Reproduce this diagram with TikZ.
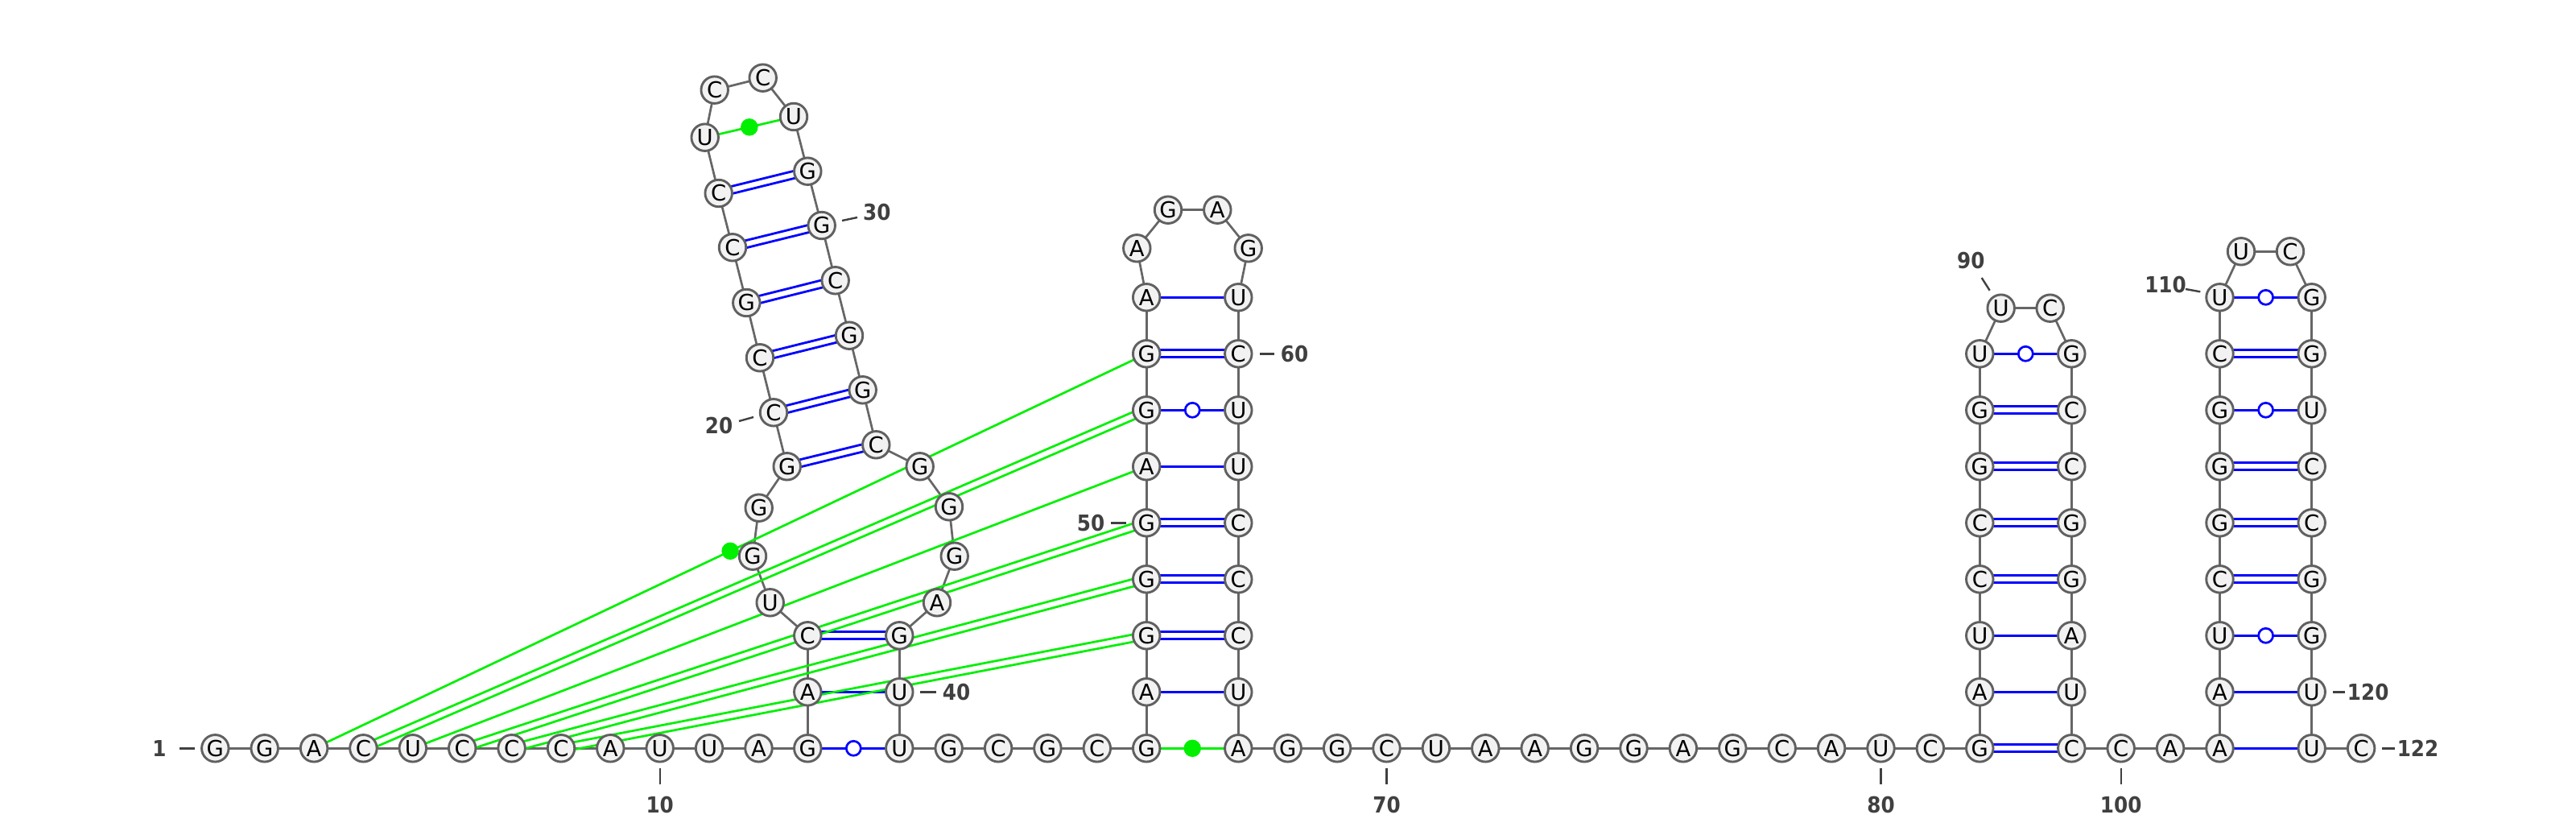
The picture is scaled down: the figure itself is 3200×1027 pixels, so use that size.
\documentclass[tikz,border=0pt]{standalone}
\usepackage{fontspec}
\setmainfont{DejaVu Sans}
\newfontfamily\numfont[FakeStretch=0.9]{DejaVu Sans}
\usetikzlibrary{calc}
\pgfdeclarelayer{bg}
\pgfsetlayers{bg,main}
\definecolor{ntfill}{HTML}{F2F2F2}
\definecolor{ntdraw}{HTML}{606060}
\definecolor{bbcol}{HTML}{666666}
\definecolor{pblue}{HTML}{0000FF}
\definecolor{pgreen}{HTML}{00F000}
\definecolor{lblcol}{HTML}{404040}
\tikzset{
  nt/.style={circle, draw=ntdraw, fill=ntfill, line width=0.29mm, minimum size=3.35mm, inner sep=0pt, font=\fontsize{7.8pt}{9pt}\selectfont, text=black},
  bb/.style={draw=bbcol, line width=0.27mm},
  bp/.style={draw=pblue, line width=0.28mm},
  gp/.style={draw=pgreen, line width=0.27mm},
  wob/.style={circle, draw=pblue, fill=white, line width=0.27mm, minimum size=1.8mm, inner sep=0pt},
  gdot/.style={circle, fill=pgreen, minimum size=2.15mm, inner sep=0pt},
  lbl/.style={font=\numfont\bfseries\fontsize{7.8pt}{9pt}\selectfont, text=lblcol, inner sep=0pt},
  tick/.style={draw=lblcol, line width=0.24mm}
}
\newcommand\dpl[3]{%
  \draw[#3] ($(#1.center)!0.45mm!90:(#2.center)$) -- ($(#2.center)!0.45mm!-90:(#1.center)$);
  \draw[#3] ($(#1.center)!0.45mm!-90:(#2.center)$) -- ($(#2.center)!0.45mm!90:(#1.center)$);}
\begin{document}
\begin{tikzpicture}[x=0.1mm,y=-0.1mm]
\useasboundingbox (0,0) rectangle (3200,1027);
% nucleotides
\foreach \n/\x/\y/\b in {
1/267.3/929.3/G, 2/328.7/929.3/G, 3/390.1/929.3/A, 4/451.4/929.3/C, 5/512.8/929.3/U,
6/574.2/929.3/C, 7/635.6/929.3/C, 8/697.0/929.3/C, 9/758.3/929.3/A, 10/819.7/929.3/U,
11/881.1/929.3/U, 12/942.5/929.3/A, 13/1003.3/929.3/G, 14/1003.3/859.3/A, 15/1003.3/789.3/C,
16/956.7/748.3/U, 17/935.0/690.7/G, 18/942.7/630.7/G, 19/977.7/579.3/G, 20/961.0/512.3/C,
21/944.0/444.3/C, 22/927.3/376.0/G, 23/910.0/307.3/C, 24/892.7/240.0/C, 25/875.7/170.7/U,
26/887.7/111.7/C, 27/947.7/96.7/C, 28/986.0/145.0/U, 29/1003.3/212.7/G, 30/1020.7/280.0/G,
31/1037.7/348.3/C, 32/1055.0/416.7/G, 33/1071.7/484.3/G, 34/1088.3/552.3/C, 35/1142.7/579.3/G,
36/1179.0/629.3/G, 37/1185.7/690.7/G, 38/1164.0/748.3/A, 39/1117.3/789.3/G, 40/1117.3/859.3/U,
41/1117.3/929.3/U, 42/1178.7/929.3/G, 43/1240.1/929.3/C, 44/1301.4/929.3/G, 45/1362.8/929.3/C,
46/1424.2/929.3/G, 47/1424.2/859.3/A, 48/1424.2/789.3/G, 49/1424.2/719.3/G, 50/1424.2/649.3/G,
51/1424.2/579.3/A, 52/1424.2/509.3/G, 53/1424.2/439.3/G, 54/1424.2/369.3/A, 55/1412.3/308.3/A,
56/1451.0/260.7/G, 57/1512.3/260.7/A, 58/1550.7/308.3/G, 59/1538.3/369.3/U, 60/1538.3/439.3/C,
61/1538.3/509.3/U, 62/1538.3/579.3/U, 63/1538.3/649.3/C, 64/1538.3/719.3/C, 65/1538.3/789.3/C,
66/1538.3/859.3/U, 67/1538.3/929.3/A, 68/1599.7/929.3/G, 69/1661.1/929.3/G, 70/1722.5/929.3/C,
71/1783.9/929.3/U, 72/1845.3/929.3/A, 73/1906.7/929.3/A, 74/1968.1/929.3/G, 75/2029.5/929.3/G,
76/2090.9/929.3/A, 77/2152.3/929.3/G, 78/2213.7/929.3/C, 79/2275.1/929.3/A, 80/2336.5/929.3/U,
81/2397.9/929.3/C, 82/2459.3/929.3/G, 83/2459.3/859.3/A, 84/2459.3/789.3/U, 85/2459.3/719.3/C,
86/2459.3/649.3/C, 87/2459.3/579.3/G, 88/2459.3/509.3/G, 89/2459.3/439.3/U, 90/2485.7/382.7/U,
91/2546.7/382.7/C, 92/2573.3/439.3/G, 93/2573.3/509.3/C, 94/2573.3/579.3/C, 95/2573.3/649.3/G,
96/2573.3/719.3/G, 97/2573.3/789.3/A, 98/2573.3/859.3/U, 99/2573.3/929.3/C, 100/2634.7/929.3/C,
101/2696.1/929.3/A, 102/2757.5/929.3/A, 103/2757.5/859.3/A, 104/2757.5/789.3/U, 105/2757.5/719.3/C,
106/2757.5/649.3/G, 107/2757.5/579.3/G, 108/2757.5/509.3/G, 109/2757.5/439.3/C, 110/2757.5/369.3/U,
111/2784.0/312.3/U, 112/2845.0/312.3/C, 113/2871.7/369.3/G, 114/2871.7/439.3/G, 115/2871.7/509.3/U,
116/2871.7/579.3/C, 117/2871.7/649.3/C, 118/2871.7/719.3/G, 119/2871.7/789.3/G, 120/2871.7/859.3/U,
121/2871.7/929.3/U, 122/2933.1/929.3/C}
  \node[nt] (n\n) at (\x,\y) {\b};
% position labels
\node[lbl] (l1) at (198,929.3) {1};
\node[lbl] (l10) at (819.7,999.3) {10};
\node[lbl] (l20) at (893,529) {20};
\node[lbl] (l30) at (1089.3,263.3) {30};
\node[lbl] (l40) at (1188,860) {40};
\node[lbl] (l50) at (1355,649.3) {50};
\node[lbl] (l60) at (1608,439.3) {60};
\node[lbl] (l70) at (1722.5,999.3) {70};
\node[lbl] (l80) at (2336.5,999.3) {80};
\node[lbl] (l90) at (2448.3,323.3) {90};
\node[lbl] (l100) at (2634.7,999.3) {100};
\node[lbl] (l110) at (2690,353.3) {110};
\node[lbl] (l120) at (2941.7,859.3) {120};
\node[lbl] (l122) at (3003.5,929.3) {122};
\draw[tick] (222.7,929.3) -- (241.7,929.3);
\draw[tick] (819.7,954) -- (819.7,974);
\draw[tick] (918,523) -- (936,518);
\draw[tick] (1046,274) -- (1065,270);
\draw[tick] (1143,859.3) -- (1163,859.3);
\draw[tick] (1380,649.3) -- (1399,649.3);
\draw[tick] (1565,439.3) -- (1583,439.3);
\draw[tick] (1722.5,954) -- (1722.5,974);
\draw[tick] (2336.5,954) -- (2336.5,974);
\draw[tick] (2461.7,345) -- (2471.7,360.7);
\draw[tick] (2634.7,954) -- (2634.7,974);
\draw[tick] (2715,359) -- (2733.3,362.3);
\draw[tick] (2898.3,859.3) -- (2913.3,859.3);
\draw[tick] (2959,929.3) -- (2975,929.3);
\begin{pgfonlayer}{bg}
\fill[white] (0,0) rectangle (3200,1027);
% backbone
\foreach \i in {1,...,121}{
  \pgfmathtruncatemacro\j{\i+1}
  \draw[bb] (n\i.center) -- (n\j.center);
}
% canonical single pairs
\foreach \a/\b in {14/40, 47/66, 51/62, 54/59, 83/98, 84/97, 103/120, 102/121}
  \draw[bp] (n\a.center) -- (n\b.center);
% canonical double pairs
\foreach \a/\b in {15/39, 19/34, 20/33, 21/32, 22/31, 23/30, 24/29, 48/65, 49/64, 50/63, 53/60,
  82/99, 85/96, 86/95, 87/94, 88/93, 105/118, 106/117, 107/116, 109/114}
  {\dpl{n\a}{n\b}{bp}}
% wobble pairs
\foreach \a/\b in {13/41, 52/61, 89/92, 104/119, 108/115, 110/113}
  \draw[bp] (n\a.center) -- node[wob] (w\a) {} (n\b.center);
% pseudoknot pairs
\draw[gp] (n5.center) -- (n51.center);
\foreach \a/\b in {4/52, 6/50, 7/49, 8/48}
  {\dpl{n\a}{n\b}{gp}}
% non-canonical pairs
\foreach \a/\b in {25/28, 46/67, 3/53}
  \draw[gp] (n\a.center) -- node[gdot] (g\a) {} (n\b.center);
\end{pgfonlayer}
\end{tikzpicture}
\end{document}
